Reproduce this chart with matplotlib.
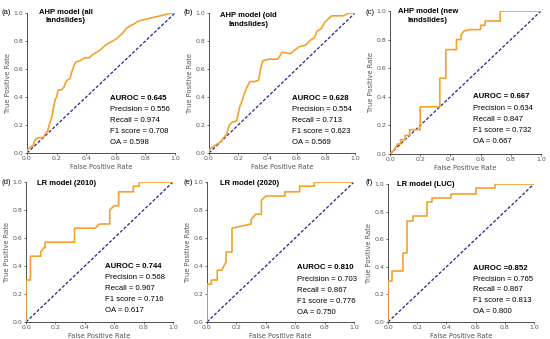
import matplotlib
matplotlib.use("Agg")
import matplotlib.pyplot as plt

# ROC curves (FPR, TPR)
fpr_a = [0, 0, 0.02, 0.04, 0.05, 0.06, 0.08, 0.11, 0.12, 0.14, 0.15, 0.16, 0.17, 0.18, 0.19, 0.20, 0.21,
         0.23, 0.25, 0.26, 0.27, 0.29, 0.30, 0.31, 0.32, 0.33, 0.36, 0.39, 0.42, 0.44, 0.47, 0.50, 0.53,
         0.56, 0.58, 0.61, 0.63, 0.65, 0.67, 0.70, 0.72, 0.75, 0.78, 0.82, 0.86, 0.90, 0.94, 0.97, 1.0]
tpr_a = [0, 0.02, 0.04, 0.05, 0.08, 0.10, 0.11, 0.11, 0.13, 0.16, 0.20, 0.23, 0.27, 0.33, 0.38, 0.40, 0.45,
         0.45, 0.47, 0.50, 0.52, 0.53, 0.57, 0.60, 0.63, 0.65, 0.66, 0.68, 0.68, 0.70, 0.72, 0.74, 0.77,
         0.79, 0.80, 0.82, 0.84, 0.86, 0.89, 0.91, 0.92, 0.94, 0.95, 0.96, 0.97, 0.98, 0.99, 1.0, 1.0]

fpr_b = [0, 0, 0.02, 0.05, 0.08, 0.10, 0.12, 0.13, 0.14, 0.16, 0.19, 0.20, 0.21, 0.23, 0.24, 0.26, 0.28,
         0.31, 0.34, 0.35, 0.36, 0.37, 0.41, 0.47, 0.49, 0.50, 0.56, 0.58, 0.62, 0.66, 0.68, 0.70, 0.72,
         0.74, 0.77, 0.79, 0.81, 0.84, 0.92, 0.96, 1.0]
tpr_b = [0, 0.02, 0.04, 0.06, 0.08, 0.11, 0.13, 0.17, 0.20, 0.22, 0.23, 0.28, 0.33, 0.38, 0.42, 0.47, 0.51,
         0.51, 0.52, 0.58, 0.63, 0.66, 0.67, 0.67, 0.70, 0.72, 0.71, 0.73, 0.76, 0.77, 0.79, 0.81, 0.82,
         0.87, 0.89, 0.93, 0.95, 0.98, 0.98, 1.0, 1.0]

fpr_c = [0, 0.03, 0.03, 0.05, 0.07, 0.07, 0.10, 0.10, 0.13, 0.13, 0.20, 0.20, 0.33, 0.33, 0.37, 0.37,
         0.44, 0.44, 0.47, 0.47, 0.49, 0.53, 0.60, 0.60, 0.63, 0.63, 0.73, 0.73, 1.0]
tpr_c = [0, 0.03, 0.03, 0.07, 0.07, 0.10, 0.10, 0.13, 0.13, 0.17, 0.17, 0.33, 0.33, 0.53, 0.53, 0.73,
         0.73, 0.80, 0.80, 0.83, 0.86, 0.87, 0.87, 0.90, 0.90, 0.93, 0.93, 1.0, 1.0]

fpr_d = [0, 0, 0.03, 0.03, 0.10, 0.10, 0.12, 0.13, 0.13, 0.33, 0.33, 0.47, 0.50, 0.57, 0.57, 0.60,
         0.63, 0.63, 0.73, 0.73, 0.77, 0.77, 1.0]
tpr_d = [0, 0.30, 0.30, 0.47, 0.47, 0.50, 0.53, 0.53, 0.57, 0.57, 0.67, 0.67, 0.70, 0.70, 0.80, 0.83,
         0.83, 0.93, 0.93, 0.97, 0.97, 1.0, 1.0]

fpr_e = [0, 0, 0.03, 0.03, 0.07, 0.07, 0.10, 0.13, 0.13, 0.17, 0.17, 0.30, 0.30, 0.33, 0.37, 0.37,
         0.40, 0.53, 0.53, 0.63, 0.63, 0.73, 0.73, 1.0]
tpr_e = [0, 0.27, 0.27, 0.30, 0.30, 0.37, 0.37, 0.43, 0.50, 0.50, 0.67, 0.70, 0.73, 0.77, 0.77, 0.87,
         0.90, 0.90, 0.93, 0.93, 0.97, 0.97, 1.0, 1.0]

fpr_f = [0, 0, 0.03, 0.03, 0.10, 0.10, 0.13, 0.13, 0.17, 0.17, 0.27, 0.27, 0.30, 0.30, 0.43, 0.43,
         0.60, 0.60, 0.73, 0.73, 1.0]
tpr_f = [0, 0.30, 0.30, 0.37, 0.37, 0.50, 0.50, 0.73, 0.73, 0.77, 0.77, 0.87, 0.87, 0.90, 0.90, 0.93,
         0.93, 0.97, 0.97, 1.0, 1.0]

panel_letters = ["(a)", "(b)", "(c)", "(d)", "(e)", "(f)"]
titles = ["AHP model (all\nlandslides)", "AHP model (old\nlandslides)", "AHP model (new\nlandslides)",
          "LR model (2010)", "LR model (2020)", "LR model (LUC)"]
auroc = ["AUROC = 0.645", "AUROC = 0.628", "AUROC = 0.667", "AUROC = 0.744", "AUROC = 0.810", "AUROC =0.852"]
precision = ["0.556", "0.554", "0.634", "0.568", "0.703", "0.765"]
recall = ["0.974", "0.713", "0.847", "0.967", "0.867", "0.867"]
f1 = ["0.708", "0.623", "0.732", "0.716", "0.776", "0.813"]
oa = ["0.598", "0.569", "0.667", "0.617", "0.750", "0.800"]

curves = [(fpr_a, tpr_a), (fpr_b, tpr_b), (fpr_c, tpr_c), (fpr_d, tpr_d), (fpr_e, tpr_e), (fpr_f, tpr_f)]

W, H = 550, 339
# axes boxes in pixels: x0, x1, y_top, y_bottom
boxes = [(27, 175, 13, 153), (209, 355, 13, 153), (390, 541, 11, 154),
         (26, 173, 182, 322), (207, 354, 182, 322), (388, 534, 184, 322)]
# title anchor (axes frac), alignment
title_pos = [(0.26, 0.975, "center"), (0.27, 0.95, "center"), (0.25, 0.965, "center"),
             (0.075, 0.99, "left"), (0.09, 0.99, "left"), (0.06, 1.0, "left")]
metric_pos = [(0.56, 0.39), (0.57, 0.39), (0.55, 0.40), (0.54, 0.40), (0.61, 0.386), (0.58, 0.39)]
letter_pos = [(2, 13), (184, 13), (366, 13), (2, 182), (184, 182), (366, 182)]

ORANGE = "#f5a12a"
NAVY = "#23238e"
GREY = "#555555"
ANN_FONT = "Liberation Sans"

fig = plt.figure(figsize=(W / 100, H / 100), dpi=100)

for i, (fpr, tpr) in enumerate(curves):
    x0, x1, yt, yb = boxes[i]
    ax = fig.add_axes([x0 / W, 1 - yb / H, (x1 - x0) / W, (yb - yt) / H])
    ax.plot(fpr, tpr, color=ORANGE, lw=1.2, zorder=3)
    ax.plot([0, 1], [0, 1], color=NAVY, lw=0.9, ls=(0, (2.5, 1.5)), zorder=2)
    ax.set_xlim(0, 1)
    ax.set_ylim(0, 1)
    for s in ["top", "right"]:
        ax.spines[s].set_visible(False)
    for s in ["left", "bottom"]:
        ax.spines[s].set_linewidth(0.6)
        ax.spines[s].set_color("#333333")
    ax.set_xticks([0, 0.2, 0.4, 0.6, 0.8, 1.0])
    ax.set_yticks([0, 0.2, 0.4, 0.6, 0.8, 1.0])
    ax.tick_params(labelsize=4.5, length=1.5, width=0.5, pad=1, colors="#333333", labelcolor=GREY)
    ax.set_xlabel("False Positive Rate", fontsize=4.9, color=GREY, labelpad=1.5)
    ax.set_ylabel("True Positive Rate", fontsize=4.9, color=GREY, labelpad=2)

    tx, ty, ha = title_pos[i]
    ax.text(tx, ty, titles[i], transform=ax.transAxes, ha=ha, va="center", fontsize=5.5,
            fontweight="bold", family=ANN_FONT, linespacing=1.35)

    mx, my = metric_pos[i]
    ax.text(mx, my, auroc[i], transform=ax.transAxes, ha="left", va="center", fontsize=5.6,
            fontweight="bold", family=ANN_FONT)
    rest = [f"Precision = {precision[i]}", f"Recall = {recall[i]}",
            f"F1 score = {f1[i]}", f"OA = {oa[i]}"]
    for k, line in enumerate(rest):
        ax.text(mx, my - (k + 1) * 0.079, line, transform=ax.transAxes, ha="left", va="center",
                fontsize=5.6, family=ANN_FONT)

    lx, ly = letter_pos[i]
    fig.text(lx / W, 1 - ly / H, panel_letters[i], ha="left", va="center", fontsize=5.5, family=ANN_FONT)

fig.savefig("out.png", dpi=100)
plt.close()
